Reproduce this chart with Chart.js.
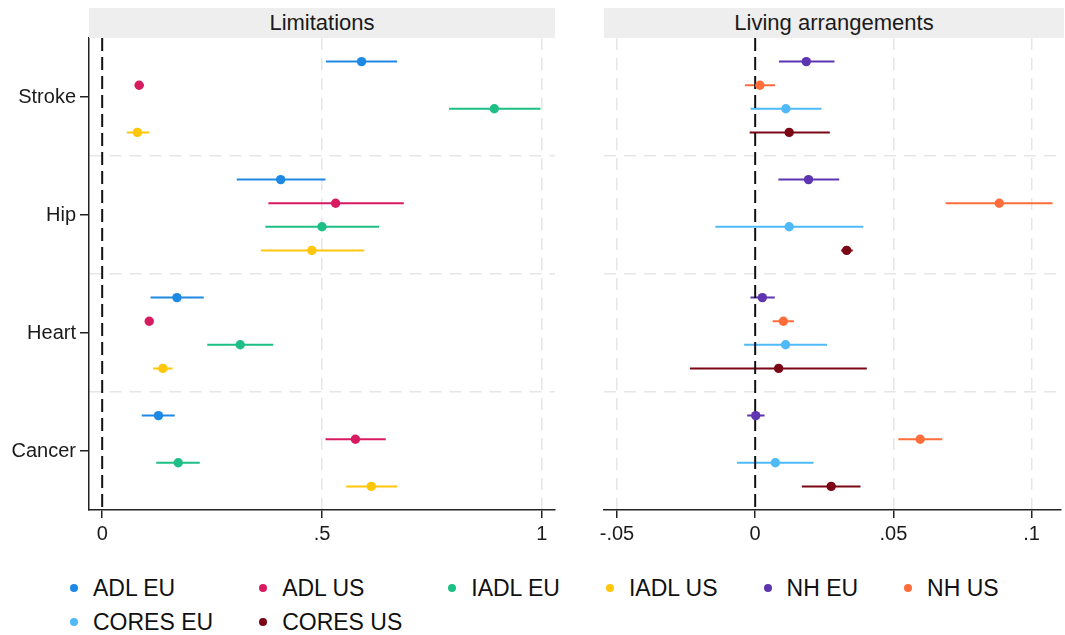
<!DOCTYPE html>
<html>
<head>
<meta charset="utf-8">
<script src="https://cdn.jsdelivr.net/npm/chart.js@4.4.1/dist/chart.umd.min.js"></script>
<style>
    body { margin: 0; background: #fff; font-family: 'Liberation Sans', Arial, sans-serif; }
    #wrap { position: relative; width: 1065px; height: 635px; overflow: hidden; }
    canvas { position: absolute; top: 0; }
    .strip { position: absolute; top: 8px; height: 30px; line-height: 30px; background: #eeeeee; text-align: center; font-size: 22px; color: #1a1a1a; }
    #legend { position: absolute; left: 70px; top: 571px; display: grid; grid-template-columns: repeat(6, auto); column-gap: 46px; font-size: 23px; color: #111; }
    .item { display: flex; align-items: center; height: 34px; white-space: nowrap; }
    .dot { width: 8px; height: 8px; border-radius: 50%; margin-right: 15px; }
</style>
</head>
<body>
<div id="wrap">
    <canvas id="limitChart" width="580" height="560" style="left:0"></canvas>
    <canvas id="livingChart" width="485" height="560" style="left:580px"></canvas>
    <div class="strip" style="left:89px;width:466px">Limitations</div>
    <div class="strip" style="left:604px;width:460px">Living arrangements</div>
    <div id="legend"></div>
</div>
<script>
const categories = ['Stroke', 'Hip', 'Heart', 'Cancer'];

// each row: [estimate, lower CI, upper CI], one row per category
const adlEu = [[0.590, 0.509, 0.671], [0.406, 0.306, 0.508], [0.170, 0.110, 0.231], [0.128, 0.090, 0.165]];
const adlUs = [[0.084, 0.075, 0.095], [0.531, 0.378, 0.686], [0.107, 0.099, 0.116], [0.576, 0.508, 0.645]];
const iadlEu = [[0.892, 0.789, 0.997], [0.500, 0.371, 0.630], [0.314, 0.239, 0.389], [0.173, 0.123, 0.222]];
const iadlUs = [[0.080, 0.056, 0.107], [0.477, 0.361, 0.596], [0.138, 0.116, 0.160], [0.612, 0.555, 0.671]];

const nhEu = [[0.0185, 0.0086, 0.0287], [0.0193, 0.0084, 0.0304], [0.0026, -0.0017, 0.0071], [0.0002, -0.0029, 0.0034]];
const nhUs = [[0.0017, -0.0037, 0.0072], [0.0883, 0.0689, 0.1076], [0.0102, 0.0063, 0.0140], [0.0597, 0.0518, 0.0677]];
const coresEu = [[0.0111, -0.0017, 0.0240], [0.0123, -0.0144, 0.0391], [0.0110, -0.0040, 0.0260], [0.0073, -0.0066, 0.0211]];
const coresUs = [[0.0123, -0.0020, 0.0270], [0.0331, 0.0311, 0.0353], [0.0085, -0.0236, 0.0404], [0.0275, 0.0169, 0.0381]];

const limitTicks = [0, 0.5, 1];
const limitTickLabels = ['0', '.5', '1'];
const livingTicks = [-0.05, 0, 0.05, 0.1];
const livingTickLabels = ['-.05', '0', '.05', '.1'];

const limitSeries = [
    { name: 'ADL EU', color: '#1e88e5', data: adlEu },
    { name: 'ADL US', color: '#d81b60', data: adlUs },
    { name: 'IADL EU', color: '#1dbf85', data: iadlEu },
    { name: 'IADL US', color: '#ffc60a', data: iadlUs }
];
const livingSeries = [
    { name: 'NH EU', color: '#5e35b1', data: nhEu },
    { name: 'NH US', color: '#ff6e3a', data: nhUs },
    { name: 'CORES EU', color: '#4fbaf7', data: coresEu },
    { name: 'CORES US', color: '#7a0616', data: coresUs }
];

Chart.defaults.font.family = "'Liberation Sans', Arial, sans-serif";
Chart.defaults.font.size = 20;
Chart.defaults.color = '#1a1a1a';

const gridGray = '#e6e6e6';

const buildDatasets = (series) => {
    const sets = [];
    series.forEach((s, i) => {
        const off = (i - 1.5) * 0.2;
        const ci = [];
        s.data.forEach((row, c) => {
            ci.push({ x: row[1], y: c + off }, { x: row[2], y: c + off }, { x: null, y: null });
        });
        sets.push({
            label: s.name + ' CI', data: ci, showLine: true, spanGaps: false,
            borderColor: s.color, borderWidth: 2, pointRadius: 0, order: 3
        });
        sets.push({
            label: s.name, data: s.data.map((row, c) => ({ x: row[0], y: c + off })),
            backgroundColor: s.color, pointRadius: 4.7, pointBorderWidth: 0, order: 1
        });
    });
    sets.push({
        label: 'zero', data: [{ x: 0, y: -0.5 }, { x: 0, y: 3.5 }], showLine: true,
        borderColor: '#111', borderWidth: 2, borderDash: [13, 6], pointRadius: 0, order: 2
    });
    return sets;
};

const buildChart = (canvasId, series, xRange, xTicks, xLabels, showCats) => {
    new Chart(document.getElementById(canvasId), {
        type: 'scatter',
        data: { datasets: buildDatasets(series) },
        options: {
            responsive: false,
            animation: false,
            events: [],
            layout: { padding: { top: 38, right: showCats ? 25 : 1, left: 0, bottom: 0 } },
            plugins: { legend: { display: false }, tooltip: { enabled: false } },
            scales: {
                x: {
                    type: 'linear', min: xRange[0], max: xRange[1],
                    afterBuildTicks: (scale) => { scale.ticks = xTicks.map(v => ({ value: v })); },
                    afterFit: (scale) => { scale.height = 50; },
                    ticks: { callback: (v, i) => xLabels[i], padding: 4, autoSkip: false, maxRotation: 0 },
                    grid: {
                        color: (ctx) => ctx.tick && ctx.tick.value === 0 ? 'transparent' : gridGray,
                        lineWidth: 1.5, tickLength: 8, tickColor: '#222', tickWidth: 1.5
                    },
                    border: { color: '#222', width: 1.5, dash: [12, 8] }
                },
                y: {
                    type: 'linear', min: -0.5, max: 3.5, reverse: true,
                    afterBuildTicks: (scale) => {
                        scale.ticks = [0, 0.5, 1, 1.5, 2, 2.5, 3].map(v => ({ value: v }));
                    },
                    afterFit: (scale) => { scale.width = showCats ? 89 : 24; },
                    ticks: {
                        display: showCats, autoSkip: false, padding: 4,
                        callback: (v) => Number.isInteger(v) ? categories[v] : ''
                    },
                    grid: {
                        color: (ctx) => ctx.tick && Number.isInteger(ctx.tick.value) ? 'transparent' : gridGray,
                        lineWidth: 1.5, drawTicks: showCats, tickLength: 9, tickWidth: 1.5,
                        tickColor: (ctx) => ctx.tick && Number.isInteger(ctx.tick.value) ? '#222' : 'transparent'
                    },
                    border: { display: showCats, color: '#222', width: 1.5, dash: [12, 8] }
                }
            }
        }
    });
};

buildChart('limitChart', limitSeries, [-0.03, 1.03], limitTicks, limitTickLabels, true);
buildChart('livingChart', livingSeries, [-0.0547, 0.1104], livingTicks, livingTickLabels, false);

// legend: six columns, widths follow the longest label in each column
const legend = document.getElementById('legend');
limitSeries.concat(livingSeries).forEach(s => {
    const item = document.createElement('div');
    item.className = 'item';
    const dot = document.createElement('span');
    dot.className = 'dot';
    dot.style.background = s.color;
    item.appendChild(dot);
    item.appendChild(document.createTextNode(s.name));
    legend.appendChild(item);
});
</script>
</body>
</html>
